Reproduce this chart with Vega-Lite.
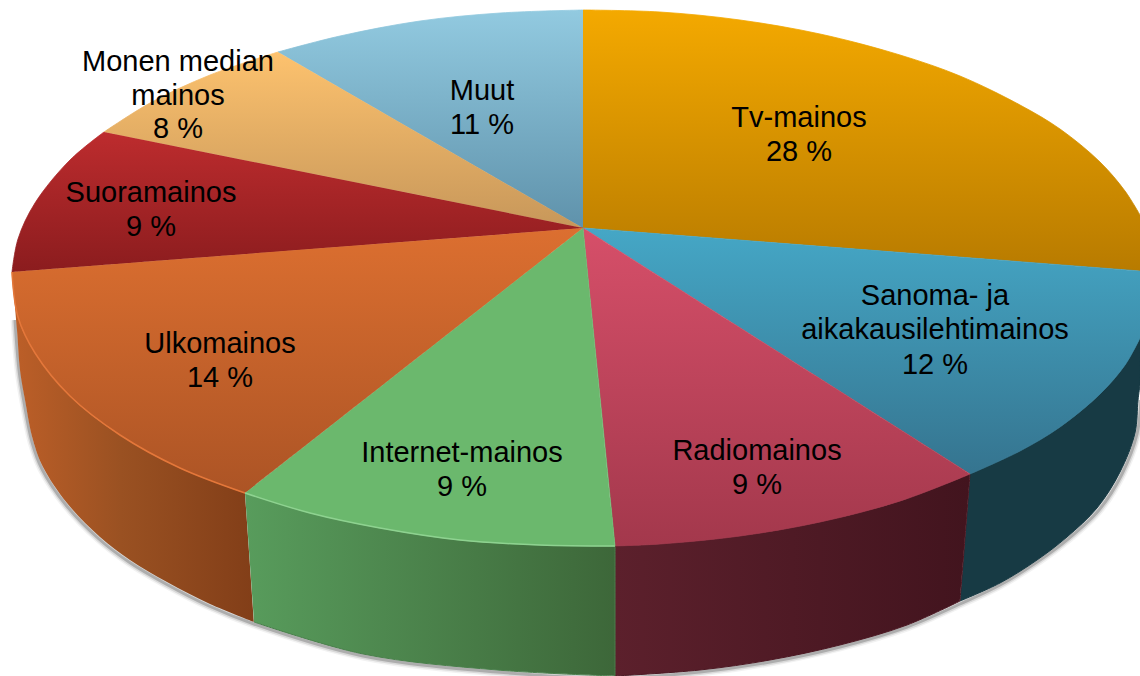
{"$schema":"https://vega.github.io/schema/vega-lite/v6.json","width":1140,"height":676,"padding":0,"autosize":"none","background":"#ffffff","view":{"stroke":null},
"datasets":{
"shadow":[{"n":1,"x":15,"y":320},{"n":2,"x":19,"y":370},{"n":3,"x":24,"y":402},{"n":4,"x":32,"y":442},{"n":5,"x":42,"y":469},{"n":6,"x":66,"y":505},{"n":7,"x":99,"y":539},{"n":8,"x":129,"y":562},{"n":9,"x":166,"y":584},{"n":10,"x":209,"y":606},{"n":11,"x":254,"y":624},{"n":12,"x":363,"y":656},{"n":13,"x":497,"y":672},{"n":14,"x":615,"y":678},{"n":15,"x":700,"y":672},{"n":16,"x":770,"y":662},{"n":17,"x":840,"y":647},{"n":18,"x":907,"y":627},{"n":19,"x":960,"y":604},{"n":20,"x":1000,"y":585},{"n":21,"x":1037,"y":562},{"n":22,"x":1068,"y":539},{"n":23,"x":1099,"y":510},{"n":24,"x":1122,"y":474},{"n":25,"x":1137,"y":434},{"n":26,"x":1141,"y":400}],
"sanomaSide":[{"n":1,"x":970,"y":474},{"n":1,"x":970,"y":474},{"n":2,"x":1020,"y":451},{"n":3,"x":1060,"y":427},{"n":4,"x":1100,"y":394},{"n":5,"x":1125,"y":365},{"n":6,"x":1140,"y":338},{"n":6,"x":1140,"y":338},{"n":7,"x":1140,"y":385},{"n":7,"x":1140,"y":385},{"n":8,"x":1138,"y":400},{"n":9,"x":1135,"y":433},{"n":10,"x":1120,"y":472},{"n":11,"x":1097,"y":508},{"n":12,"x":1067,"y":537},{"n":13,"x":1037,"y":560},{"n":14,"x":1000,"y":583},{"n":15,"x":960,"y":601},{"n":15,"x":960,"y":601}],
"radioSide":[{"n":1,"x":615,"y":546},{"n":1,"x":615,"y":546},{"n":2,"x":660,"y":544},{"n":3,"x":740,"y":536},{"n":4,"x":820,"y":522},{"n":5,"x":900,"y":501},{"n":6,"x":970,"y":474},{"n":6,"x":970,"y":474},{"n":7,"x":960,"y":601},{"n":7,"x":960,"y":601},{"n":8,"x":907,"y":625},{"n":9,"x":840,"y":645},{"n":10,"x":770,"y":660},{"n":11,"x":700,"y":670},{"n":12,"x":615,"y":676},{"n":12,"x":615,"y":676}],
"internetSide":[{"n":1,"x":245,"y":493},{"n":1,"x":245,"y":493},{"n":2,"x":310,"y":513},{"n":3,"x":380,"y":528},{"n":4,"x":460,"y":540},{"n":5,"x":540,"y":545},{"n":6,"x":615,"y":546},{"n":6,"x":615,"y":546},{"n":7,"x":615,"y":676},{"n":7,"x":615,"y":676},{"n":8,"x":497,"y":670},{"n":9,"x":363,"y":654},{"n":10,"x":254,"y":622},{"n":10,"x":254,"y":622}],
"ulkoSide":[{"n":1,"x":12,"y":272},{"n":1,"x":12,"y":272},{"n":2,"x":18,"y":317},{"n":3,"x":35,"y":353},{"n":4,"x":70,"y":396},{"n":5,"x":120,"y":435},{"n":6,"x":180,"y":468},{"n":7,"x":245,"y":493},{"n":7,"x":245,"y":493},{"n":8,"x":254,"y":622},{"n":8,"x":254,"y":622},{"n":9,"x":210,"y":604},{"n":10,"x":167,"y":582},{"n":11,"x":130,"y":560},{"n":12,"x":100,"y":537},{"n":13,"x":67,"y":503},{"n":14,"x":43,"y":467},{"n":15,"x":33,"y":440},{"n":16,"x":25,"y":400},{"n":17,"x":20,"y":370},{"n":18,"x":17,"y":330},{"n":19,"x":12,"y":272},{"n":19,"x":12,"y":272}],
"tv":[{"n":1,"x":583,"y":228},{"n":1,"x":583,"y":228},{"n":2,"x":583,"y":10},{"n":2,"x":583,"y":10},{"n":3,"x":660,"y":12},{"n":4,"x":740,"y":20},{"n":5,"x":820,"y":34},{"n":6,"x":900,"y":55},{"n":7,"x":960,"y":76},{"n":8,"x":1020,"y":105},{"n":9,"x":1060,"y":129},{"n":10,"x":1100,"y":162},{"n":11,"x":1125,"y":191},{"n":12,"x":1140,"y":215},{"n":12,"x":1140,"y":215},{"n":13,"x":1140,"y":271},{"n":13,"x":1140,"y":271}],
"sanoma":[{"n":1,"x":583,"y":228},{"n":1,"x":583,"y":228},{"n":2,"x":1140,"y":271},{"n":2,"x":1140,"y":271},{"n":3,"x":1140,"y":338},{"n":3,"x":1140,"y":338},{"n":4,"x":1125,"y":365},{"n":5,"x":1100,"y":394},{"n":6,"x":1060,"y":427},{"n":7,"x":1020,"y":451},{"n":8,"x":970,"y":474},{"n":8,"x":970,"y":474}],
"radio":[{"n":1,"x":583,"y":228},{"n":1,"x":583,"y":228},{"n":2,"x":970,"y":474},{"n":2,"x":970,"y":474},{"n":3,"x":900,"y":501},{"n":4,"x":820,"y":522},{"n":5,"x":740,"y":536},{"n":6,"x":660,"y":544},{"n":7,"x":615,"y":546},{"n":7,"x":615,"y":546}],
"internet":[{"n":1,"x":583,"y":228},{"n":1,"x":583,"y":228},{"n":2,"x":615,"y":546},{"n":2,"x":615,"y":546},{"n":3,"x":540,"y":545},{"n":4,"x":460,"y":540},{"n":5,"x":380,"y":528},{"n":6,"x":310,"y":513},{"n":7,"x":245,"y":493},{"n":7,"x":245,"y":493}],
"ulko":[{"n":1,"x":583,"y":228},{"n":1,"x":583,"y":228},{"n":2,"x":245,"y":493},{"n":2,"x":245,"y":493},{"n":3,"x":180,"y":468},{"n":4,"x":120,"y":435},{"n":5,"x":70,"y":396},{"n":6,"x":35,"y":353},{"n":7,"x":18,"y":317},{"n":8,"x":12,"y":272},{"n":8,"x":12,"y":272}],
"suora":[{"n":1,"x":583,"y":228},{"n":1,"x":583,"y":228},{"n":2,"x":12,"y":272},{"n":2,"x":12,"y":272},{"n":3,"x":18,"y":239},{"n":4,"x":35,"y":203},{"n":5,"x":70,"y":160},{"n":6,"x":104,"y":132},{"n":6,"x":104,"y":132}],
"monen":[{"n":1,"x":583,"y":228},{"n":1,"x":583,"y":228},{"n":2,"x":104,"y":132},{"n":2,"x":104,"y":132},{"n":3,"x":150,"y":103},{"n":4,"x":210,"y":75},{"n":5,"x":278,"y":52},{"n":5,"x":278,"y":52}],
"muut":[{"n":1,"x":583,"y":228},{"n":1,"x":583,"y":228},{"n":2,"x":278,"y":52},{"n":2,"x":278,"y":52},{"n":3,"x":340,"y":36},{"n":4,"x":420,"y":21},{"n":5,"x":500,"y":13},{"n":6,"x":583,"y":10},{"n":6,"x":583,"y":10}],
"ulkoRim":[{"n":1,"x":12,"y":272},{"n":2,"x":18,"y":317},{"n":3,"x":35,"y":353},{"n":4,"x":70,"y":396},{"n":5,"x":120,"y":435},{"n":6,"x":180,"y":468},{"n":7,"x":245,"y":493}],
"internetRim":[{"n":1,"x":245,"y":493},{"n":2,"x":310,"y":513},{"n":3,"x":380,"y":528},{"n":4,"x":460,"y":540},{"n":5,"x":540,"y":545},{"n":6,"x":615,"y":546}],
"labels":[{"t":"Tv-mainos","x":799,"y":118},{"t":"28 %","x":799,"y":152},{"t":"Sanoma- ja","x":935,"y":296},{"t":"aikakausilehtimainos","x":935,"y":330},{"t":"12 %","x":935,"y":365},{"t":"Radiomainos","x":757,"y":451},{"t":"9 %","x":757,"y":485},{"t":"Internet-mainos","x":462,"y":453},{"t":"9 %","x":462,"y":487},{"t":"Ulkomainos","x":220,"y":344},{"t":"14 %","x":220,"y":378},{"t":"Suoramainos","x":151,"y":193},{"t":"9 %","x":151,"y":227},{"t":"Monen median","x":178,"y":62},{"t":"mainos","x":178,"y":96},{"t":"8 %","x":178,"y":129},{"t":"Muut","x":482,"y":91},{"t":"11 %","x":482,"y":125}]
},
"encoding":{
"x":{"field":"x","type":"quantitative","scale":{"domain":[0,1140],"nice":false,"zero":false},"axis":null},
"y":{"field":"y","type":"quantitative","scale":{"domain":[676,0],"nice":false,"zero":false},"axis":null},
"order":{"field":"n","type":"quantitative"}},
"layer":[
{"data":{"name":"shadow"},"mark":{"type":"line","interpolate":"catmull-rom","stroke":"#000000","strokeWidth":9,"opacity":0.05}},
{"data":{"name":"shadow"},"mark":{"type":"line","interpolate":"catmull-rom","stroke":"#000000","strokeWidth":6,"opacity":0.1}},
{"data":{"name":"shadow"},"mark":{"type":"line","interpolate":"catmull-rom","stroke":"#000000","strokeWidth":3,"opacity":0.2}},
{"data":{"name":"sanomaSide"},"mark":{"type":"line","interpolate":"catmull-rom","strokeWidth":1,"fill":"#173a44","stroke":"#173a44"}},
{"data":{"name":"radioSide"},"mark":{"type":"line","interpolate":"catmull-rom","strokeWidth":1,"fill":{"gradient":"linear","x1":0,"y1":0,"x2":1,"y2":0,"stops":[{"offset":0,"color":"#5c202c"},{"offset":1,"color":"#42141e"}]},"stroke":"#4c1823"}},
{"data":{"name":"ulkoSide"},"mark":{"type":"line","interpolate":"catmull-rom","strokeWidth":1,"fill":{"gradient":"linear","x1":0,"y1":0,"x2":1,"y2":0,"stops":[{"offset":0,"color":"#bd5f28"},{"offset":0.45,"color":"#9a5122"},{"offset":1,"color":"#823e18"}]},"stroke":"#914b20","strokeOpacity":0}},
{"data":{"name":"internetSide"},"mark":{"type":"line","interpolate":"catmull-rom","strokeWidth":1,"fill":{"gradient":"linear","x1":0,"y1":0,"x2":1,"y2":0,"stops":[{"offset":0,"color":"#589c5c"},{"offset":1,"color":"#3d6739"}]},"stroke":"#4a7f4c"}},
{"data":{"name":"tv"},"mark":{"type":"line","interpolate":"catmull-rom","strokeWidth":0.8,"fill":{"gradient":"linear","x1":0,"y1":0,"x2":0,"y2":1,"stops":[{"offset":0,"color":"#f4a900"},{"offset":1,"color":"#b87b00"}]},"stroke":{"gradient":"linear","x1":0,"y1":0,"x2":0,"y2":1,"stops":[{"offset":0,"color":"#f4a900"},{"offset":1,"color":"#b87b00"}]}}},
{"data":{"name":"muut"},"mark":{"type":"line","interpolate":"catmull-rom","strokeWidth":0.8,"fill":{"gradient":"linear","x1":0,"y1":0,"x2":0,"y2":1,"stops":[{"offset":0,"color":"#92cae0"},{"offset":1,"color":"#5f92ab"}]},"stroke":{"gradient":"linear","x1":0,"y1":0,"x2":0,"y2":1,"stops":[{"offset":0,"color":"#92cae0"},{"offset":1,"color":"#5f92ab"}]}}},
{"data":{"name":"monen"},"mark":{"type":"line","interpolate":"catmull-rom","strokeWidth":0.8,"fill":{"gradient":"linear","x1":0,"y1":0,"x2":0,"y2":1,"stops":[{"offset":0,"color":"#fdc26e"},{"offset":1,"color":"#c7975a"}]},"stroke":{"gradient":"linear","x1":0,"y1":0,"x2":0,"y2":1,"stops":[{"offset":0,"color":"#fdc26e"},{"offset":1,"color":"#c7975a"}]}}},
{"data":{"name":"suora"},"mark":{"type":"line","interpolate":"catmull-rom","strokeWidth":0.8,"fill":{"gradient":"linear","x1":0,"y1":0,"x2":0,"y2":1,"stops":[{"offset":0,"color":"#bd2c2e"},{"offset":1,"color":"#8b1c1e"}]},"stroke":{"gradient":"linear","x1":0,"y1":0,"x2":0,"y2":1,"stops":[{"offset":0,"color":"#bd2c2e"},{"offset":1,"color":"#8b1c1e"}]}}},
{"data":{"name":"sanoma"},"mark":{"type":"line","interpolate":"catmull-rom","strokeWidth":0.8,"fill":{"gradient":"linear","x1":0,"y1":0,"x2":0,"y2":1,"stops":[{"offset":0,"color":"#45a7c6"},{"offset":1,"color":"#35748f"}]},"stroke":{"gradient":"linear","x1":0,"y1":0,"x2":0,"y2":1,"stops":[{"offset":0,"color":"#45a7c6"},{"offset":1,"color":"#35748f"}]}}},
{"data":{"name":"radio"},"mark":{"type":"line","interpolate":"catmull-rom","strokeWidth":0.8,"fill":{"gradient":"linear","x1":0,"y1":0,"x2":0,"y2":1,"stops":[{"offset":0,"color":"#d64f69"},{"offset":1,"color":"#a3384c"}]},"stroke":{"gradient":"linear","x1":0,"y1":0,"x2":0,"y2":1,"stops":[{"offset":0,"color":"#d64f69"},{"offset":1,"color":"#a3384c"}]}}},
{"data":{"name":"ulko"},"mark":{"type":"line","interpolate":"catmull-rom","strokeWidth":0.8,"fill":{"gradient":"linear","x1":0,"y1":0,"x2":0,"y2":1,"stops":[{"offset":0,"color":"#dc6f30"},{"offset":1,"color":"#ac5425"}]},"stroke":{"gradient":"linear","x1":0,"y1":0,"x2":0,"y2":1,"stops":[{"offset":0,"color":"#dc6f30"},{"offset":1,"color":"#ac5425"}]}}},
{"data":{"name":"internet"},"mark":{"type":"line","interpolate":"catmull-rom","strokeWidth":0.8,"fill":"#6bb86d","stroke":"#6bb86d"}},
{"data":{"name":"ulkoRim"},"mark":{"type":"line","interpolate":"catmull-rom","stroke":"#e4773a","strokeWidth":1.5}},
{"data":{"name":"internetRim"},"mark":{"type":"line","interpolate":"catmull-rom","stroke":"#8ed290","strokeWidth":1.5}},
{"data":{"name":"labels"},"encoding":{"order":null,"text":{"field":"t","type":"nominal"}},"mark":{"type":"text","font":"Liberation Sans","fontSize":29,"color":"#000000","align":"center","baseline":"middle"}}
]}
